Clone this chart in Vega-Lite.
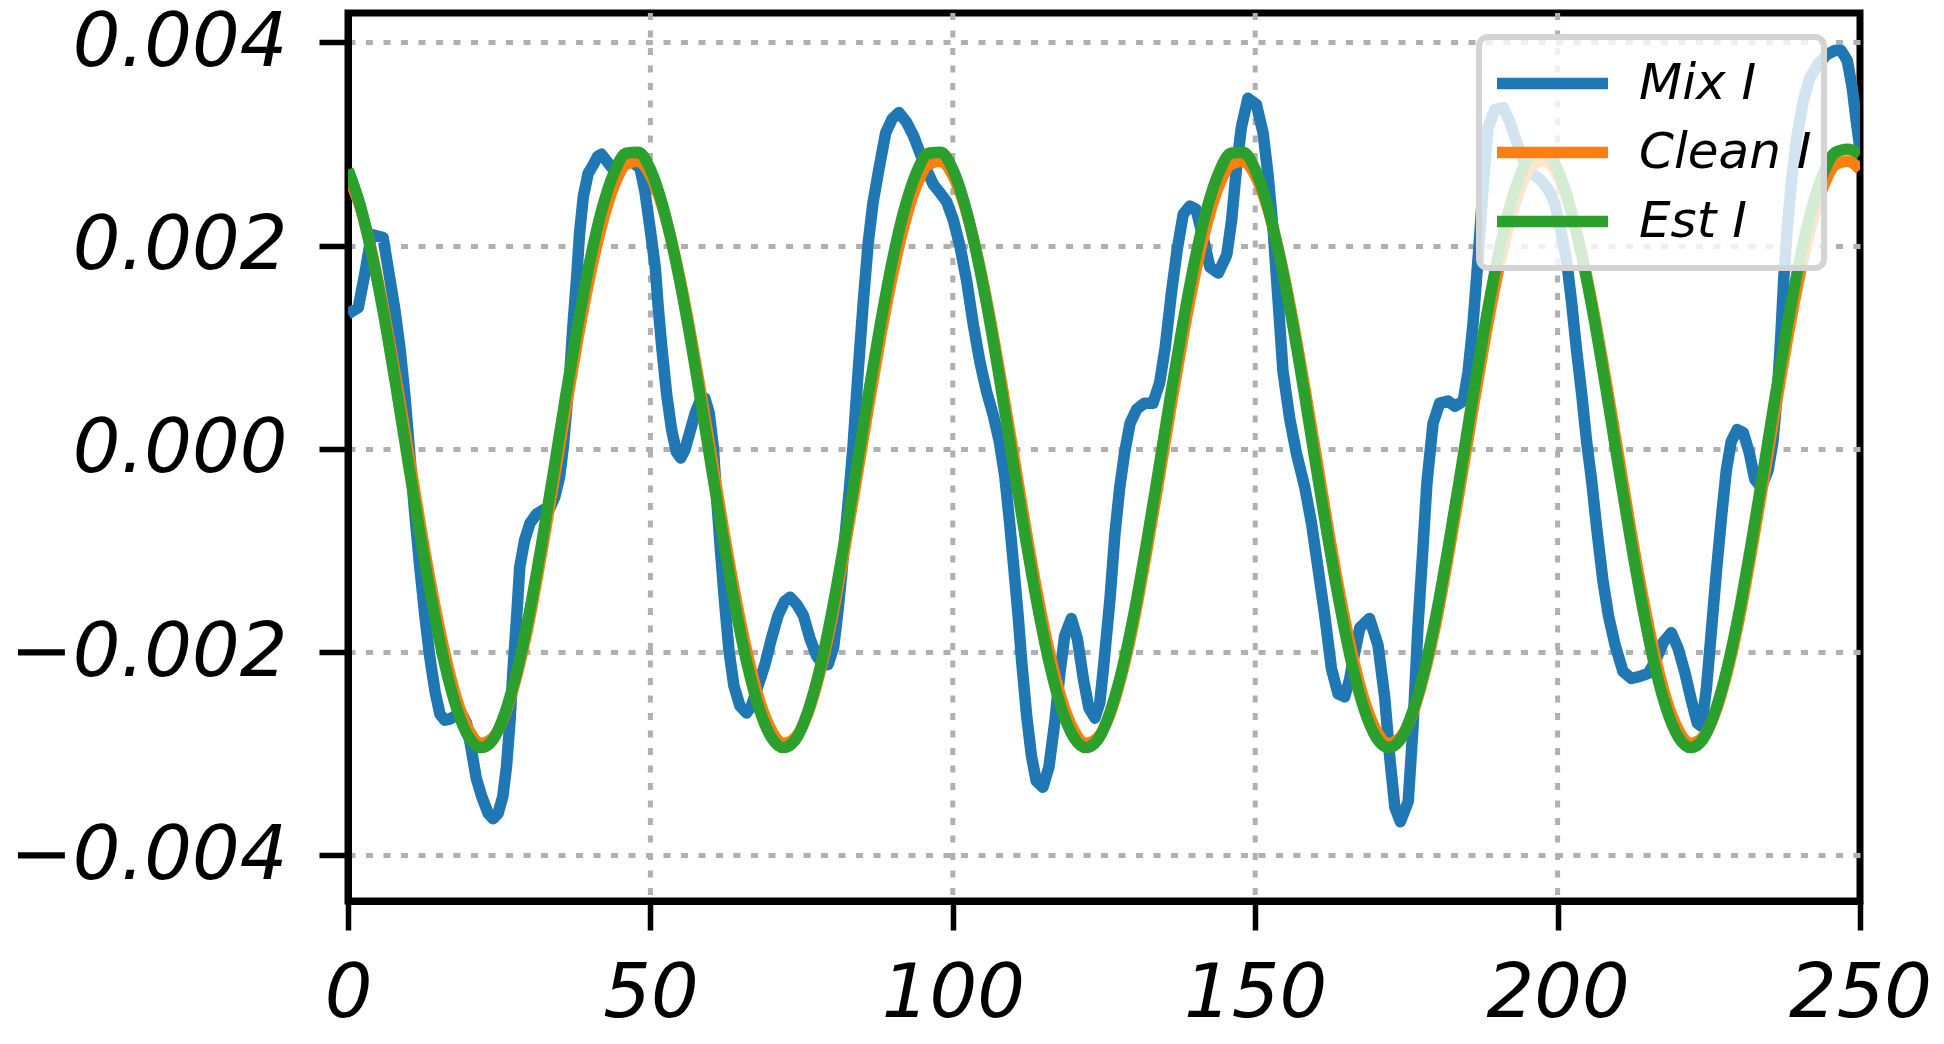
{
  "$schema": "https://vega.github.io/schema/vega-lite/v6.json",
  "width": 1512,
  "height": 888,
  "autosize": {"type": "none"},
  "padding": {"left": 348, "top": 13, "right": 84, "bottom": 143},
  "background": "white",
  "config": {
    "view": {"stroke": "black", "strokeWidth": 7},
    "axis": {
      "labelFont": "DejaVu Sans",
      "labelFontStyle": "italic",
      "labelFontSize": 75,
      "labelColor": "black",
      "labelLimit": 0,
      "tickColor": "black",
      "tickSize": 29,
      "tickWidth": 5.5,
      "domainColor": "black",
      "domainWidth": 7,
      "gridColor": "#b0b0b0",
      "gridWidth": 5,
      "gridDash": [7, 10.5],
      "labelOverlap": false,
      "labelFlush": false
    }
  },
  "datasets": {
    "xgrid": [{"x": 50}, {"x": 100}, {"x": 150}, {"x": 200}],
    "mix": [
      {"x":0,"y":0.00133},{"x":1.7,"y":0.00139},{"x":2.8,"y":0.00173},{"x":3.9,"y":0.00211},{"x":5.8,"y":0.00208},{"x":6.9,"y":0.00168},{"x":7.7,"y":0.00139},{"x":8.6,"y":0.00099},{"x":9.4,"y":0.00053},{"x":10.2,"y":-0.00004},
      {"x":11.0,"y":-0.00061},{"x":11.9,"y":-0.00118},{"x":12.7,"y":-0.00164},{"x":13.5,"y":-0.00204},{"x":14.4,"y":-0.00239},{"x":15.2,"y":-0.00261},{"x":16.0,"y":-0.00267},{"x":16.8,"y":-0.00266},{"x":17.7,"y":-0.00263},{"x":18.8,"y":-0.00261},
      {"x":19.6,"y":-0.0027},{"x":20.4,"y":-0.00296},{"x":21.2,"y":-0.00324},{"x":22.1,"y":-0.00342},{"x":23.2,"y":-0.00359},{"x":24.0,"y":-0.00364},{"x":24.8,"y":-0.00359},{"x":25.6,"y":-0.00342},{"x":26.2,"y":-0.00313},{"x":26.8,"y":-0.00267},
      {"x":27.3,"y":-0.00216},{"x":27.9,"y":-0.00164},{"x":28.4,"y":-0.00116},{"x":29.2,"y":-0.0009},{"x":30.1,"y":-0.00073},{"x":31.2,"y":-0.00064},{"x":32.3,"y":-0.0006},{"x":33.4,"y":-0.00058},{"x":34.2,"y":-0.00047},{"x":35.0,"y":-0.00027},
      {"x":35.6,"y":0.00002},{"x":36.1,"y":0.00036},{"x":36.7,"y":0.00076},{"x":37.2,"y":0.00122},{"x":37.8,"y":0.00168},{"x":38.3,"y":0.00213},{"x":38.9,"y":0.00248},{"x":39.7,"y":0.00271},{"x":40.5,"y":0.00279},{"x":41.3,"y":0.00288},
      {"x":41.9,"y":0.0029},{"x":43.6,"y":0.00277},{"x":45.2,"y":0.0028},{"x":46.9,"y":0.00283},{"x":48.3,"y":0.00276},{"x":49.1,"y":0.00253},{"x":49.9,"y":0.00219},{"x":50.8,"y":0.00179},{"x":51.3,"y":0.00139},{"x":51.9,"y":0.00099},
      {"x":52.7,"y":0.00053},{"x":53.5,"y":0.00019},{"x":54.3,"y":-0.00003},{"x":55.0,"y":-0.00009},{"x":55.7,"y":-0.00001},{"x":56.5,"y":0.00016},{"x":57.4,"y":0.00035},{"x":58.2,"y":0.00047},{"x":59.0,"y":0.0005},{"x":59.7,"y":0.00036},
      {"x":60.4,"y":0.00002},{"x":60.9,"y":-0.00044},{"x":61.6,"y":-0.00101},{"x":62.3,"y":-0.00153},{"x":63.0,"y":-0.00199},{"x":63.8,"y":-0.00233},{"x":64.8,"y":-0.00253},{"x":65.9,"y":-0.0026},{"x":66.7,"y":-0.00253},{"x":67.8,"y":-0.00233},
      {"x":68.9,"y":-0.00213},{"x":70.0,"y":-0.00187},{"x":71.1,"y":-0.00164},{"x":72.2,"y":-0.0015},{"x":73.1,"y":-0.00146},{"x":74.2,"y":-0.00153},{"x":75.3,"y":-0.00164},{"x":76.4,"y":-0.00187},{"x":77.5,"y":-0.00204},{"x":78.6,"y":-0.00213},
      {"x":79.4,"y":-0.00212},{"x":80.3,"y":-0.00195},{"x":81.0,"y":-0.0016},{"x":81.6,"y":-0.00125},{"x":82.2,"y":-0.00085},{"x":82.9,"y":-0.0004},{"x":83.5,"y":0.00002},{"x":84.35,"y":0.00076},{"x":85.2,"y":0.00145},{"x":86.0,"y":0.00202},
      {"x":86.8,"y":0.00242},{"x":87.8,"y":0.00276},{"x":88.9,"y":0.00311},{"x":90.0,"y":0.00325},{"x":91.1,"y":0.00331},{"x":92.3,"y":0.00322},{"x":93.5,"y":0.00308},{"x":94.6,"y":0.00291},{"x":95.7,"y":0.00274},{"x":96.8,"y":0.0026},
      {"x":97.9,"y":0.00252},{"x":99.0,"y":0.00243},{"x":100.1,"y":0.00225},{"x":101.2,"y":0.00199},{"x":102.3,"y":0.00165},{"x":103.4,"y":0.00122},{"x":104.5,"y":0.00085},{"x":105.6,"y":0.00056},{"x":106.7,"y":0.00033},{"x":107.7,"y":0.00007},
      {"x":108.6,"y":-0.00027},{"x":109.4,"y":-0.00073},{"x":110.1,"y":-0.00118},{"x":110.8,"y":-0.00164},{"x":111.4,"y":-0.0021},{"x":112.2,"y":-0.00262},{"x":113.0,"y":-0.00302},{"x":113.8,"y":-0.00327},{"x":114.9,"y":-0.00333},{"x":115.9,"y":-0.00313},
      {"x":116.9,"y":-0.00267},{"x":117.7,"y":-0.00221},{"x":118.5,"y":-0.00184},{"x":119.6,"y":-0.00167},{"x":120.6,"y":-0.00187},{"x":121.6,"y":-0.00227},{"x":122.5,"y":-0.00255},{"x":123.5,"y":-0.00265},{"x":124.3,"y":-0.0025},{"x":124.9,"y":-0.00216},
      {"x":126.0,"y":-0.00147},{"x":126.8,"y":-0.00084},{"x":127.6,"y":-0.00038},{"x":128.4,"y":-0.00004},{"x":129.3,"y":0.00025},{"x":130.4,"y":0.00039},{"x":131.7,"y":0.00045},{"x":133.1,"y":0.00045},{"x":134.2,"y":0.00065},{"x":135.1,"y":0.00099},
      {"x":136.2,"y":0.00156},{"x":137.1,"y":0.00196},{"x":138.1,"y":0.00231},{"x":139.2,"y":0.00239},{"x":140.2,"y":0.00236},{"x":141.4,"y":0.00208},{"x":142.5,"y":0.00179},{"x":143.9,"y":0.00173},{"x":145.3,"y":0.00191},{"x":146.1,"y":0.00225},
      {"x":146.9,"y":0.00276},{"x":147.7,"y":0.00316},{"x":148.8,"y":0.00345},{"x":150.2,"y":0.00339},{"x":151.3,"y":0.00311},{"x":152.1,"y":0.00271},{"x":153.0,"y":0.00213},{"x":153.8,"y":0.00145},{"x":154.6,"y":0.00076},{"x":155.7,"y":0.0003},
      {"x":156.8,"y":-0.00004},{"x":158.2,"y":-0.00038},{"x":159.3,"y":-0.00073},{"x":160.4,"y":-0.00118},{"x":161.5,"y":-0.00164},{"x":162.6,"y":-0.00216},{"x":163.7,"y":-0.00241},{"x":164.8,"y":-0.00244},{"x":165.6,"y":-0.00227},{"x":166.3,"y":-0.00205},
      {"x":167.3,"y":-0.00176},{"x":168.9,"y":-0.00167},{"x":170.3,"y":-0.00193},{"x":171.4,"y":-0.00244},{"x":172.3,"y":-0.00307},{"x":173.1,"y":-0.00353},{"x":174.0,"y":-0.00367},{"x":175.3,"y":-0.00347},{"x":176.1,"y":-0.00273},{"x":176.9,"y":-0.00176},
      {"x":177.7,"y":-0.00101},{"x":178.4,"y":-0.00033},{"x":179.4,"y":0.00025},{"x":180.5,"y":0.00045},{"x":181.9,"y":0.00047},{"x":183.0,"y":0.00042},{"x":184.4,"y":0.00047},{"x":185.2,"y":0.00076},{"x":186.0,"y":0.00122},{"x":186.9,"y":0.00191},
      {"x":187.7,"y":0.00259},{"x":188.5,"y":0.00316},{"x":189.6,"y":0.00334},{"x":191.0,"y":0.00336},{"x":192.1,"y":0.00322},{"x":193.2,"y":0.00302},{"x":194.3,"y":0.00285},{"x":195.7,"y":0.00271},{"x":197.1,"y":0.00265},{"x":198.4,"y":0.00256},
      {"x":199.5,"y":0.00242},{"x":200.6,"y":0.00213},{"x":201.5,"y":0.00185},{"x":202.3,"y":0.00145},{"x":203.1,"y":0.00099},{"x":204.0,"y":0.00053},{"x":204.8,"y":0.00007},{"x":205.6,"y":-0.0003},{"x":206.5,"y":-0.0008},{"x":207.5,"y":-0.0013},
      {"x":208.4,"y":-0.00164},{"x":209.5,"y":-0.00193},{"x":210.8,"y":-0.00219},{"x":212.2,"y":-0.00226},{"x":213.6,"y":-0.00224},{"x":215.0,"y":-0.00221},{"x":216.3,"y":-0.00207},{"x":217.5,"y":-0.0019},{"x":218.8,"y":-0.00181},{"x":219.9,"y":-0.00196},
      {"x":221.0,"y":-0.00219},{"x":222.1,"y":-0.00247},{"x":223.1,"y":-0.0027},{"x":223.8,"y":-0.00273},{"x":224.6,"y":-0.00236},{"x":225.4,"y":-0.00181},{"x":226.3,"y":-0.00118},{"x":227.1,"y":-0.00067},{"x":227.9,"y":-0.00021},{"x":228.7,"y":0.00007},
      {"x":229.7,"y":0.00019},{"x":230.7,"y":0.00016},{"x":231.7,"y":-0.00004},{"x":232.6,"y":-0.0003},{"x":233.7,"y":-0.00038},{"x":234.8,"y":-0.00021},{"x":235.6,"y":0.00007},{"x":236.3,"y":0.00053},{"x":236.9,"y":0.0011},{"x":237.4,"y":0.00168},
      {"x":238.0,"y":0.00219},{"x":238.7,"y":0.00265},{"x":239.5,"y":0.00305},{"x":240.6,"y":0.00342},{"x":241.7,"y":0.00365},{"x":243.1,"y":0.00379},{"x":244.5,"y":0.00388},{"x":245.8,"y":0.00392},{"x":246.9,"y":0.00392},{"x":247.9,"y":0.00382},
      {"x":248.7,"y":0.00356},{"x":249.4,"y":0.00322},{"x":250.0,"y":0.00295}
    ],
    "clean": [
      {"x":0,"y":0.00269},{"x":2,"y":0.00238},{"x":4,"y":0.00192},{"x":6,"y":0.00134},{"x":8,"y":0.00067},{"x":10,"y":-0.00004},{"x":12,"y":-0.00076},{"x":14,"y":-0.00143},{"x":16,"y":-0.00201},{"x":18,"y":-0.00247},{"x":20,"y":-0.00277},{"x":22,"y":-0.0029},{"x":24,"y":-0.00284},{"x":26,"y":-0.00261},{"x":28,"y":-0.00221},{"x":30,"y":-0.00168},{"x":32,"y":-0.00103},{"x":34,"y":-0.00033},{"x":36,"y":0.00039},{"x":38,"y":0.00108},{"x":40,"y":0.0017},{"x":42,"y":0.00221},{"x":44,"y":0.00259},{"x":46,"y":0.0028},{"x":48,"y":0.00283},
      {"x":50,"y":0.00269},{"x":52,"y":0.00238},{"x":54,"y":0.00192},{"x":56,"y":0.00134},{"x":58,"y":0.00067},{"x":60,"y":-0.00004},{"x":62,"y":-0.00076},{"x":64,"y":-0.00143},{"x":66,"y":-0.00201},{"x":68,"y":-0.00247},{"x":70,"y":-0.00277},{"x":72,"y":-0.0029},{"x":74,"y":-0.00284},{"x":76,"y":-0.00261},{"x":78,"y":-0.00221},{"x":80,"y":-0.00168},{"x":82,"y":-0.00103},{"x":84,"y":-0.00033},{"x":86,"y":0.00039},{"x":88,"y":0.00108},{"x":90,"y":0.0017},{"x":92,"y":0.00221},{"x":94,"y":0.00259},{"x":96,"y":0.0028},{"x":98,"y":0.00283},
      {"x":100,"y":0.00269},{"x":102,"y":0.00238},{"x":104,"y":0.00192},{"x":106,"y":0.00134},{"x":108,"y":0.00067},{"x":110,"y":-0.00004},{"x":112,"y":-0.00076},{"x":114,"y":-0.00143},{"x":116,"y":-0.00201},{"x":118,"y":-0.00247},{"x":120,"y":-0.00277},{"x":122,"y":-0.0029},{"x":124,"y":-0.00284},{"x":126,"y":-0.00261},{"x":128,"y":-0.00221},{"x":130,"y":-0.00168},{"x":132,"y":-0.00103},{"x":134,"y":-0.00033},{"x":136,"y":0.00039},{"x":138,"y":0.00108},{"x":140,"y":0.0017},{"x":142,"y":0.00221},{"x":144,"y":0.00259},{"x":146,"y":0.0028},{"x":148,"y":0.00283},
      {"x":150,"y":0.00269},{"x":152,"y":0.00238},{"x":154,"y":0.00192},{"x":156,"y":0.00134},{"x":158,"y":0.00067},{"x":160,"y":-0.00004},{"x":162,"y":-0.00076},{"x":164,"y":-0.00143},{"x":166,"y":-0.00201},{"x":168,"y":-0.00247},{"x":170,"y":-0.00277},{"x":172,"y":-0.0029},{"x":174,"y":-0.00284},{"x":176,"y":-0.00261},{"x":178,"y":-0.00221},{"x":180,"y":-0.00168},{"x":182,"y":-0.00103},{"x":184,"y":-0.00033},{"x":186,"y":0.00039},{"x":188,"y":0.00108},{"x":190,"y":0.0017},{"x":192,"y":0.00221},{"x":194,"y":0.00259},{"x":196,"y":0.0028},{"x":198,"y":0.00283},
      {"x":200,"y":0.00269},{"x":202,"y":0.00238},{"x":204,"y":0.00192},{"x":206,"y":0.00134},{"x":208,"y":0.00067},{"x":210,"y":-0.00004},{"x":212,"y":-0.00076},{"x":214,"y":-0.00143},{"x":216,"y":-0.00201},{"x":218,"y":-0.00247},{"x":220,"y":-0.00277},{"x":222,"y":-0.0029},{"x":224,"y":-0.00284},{"x":226,"y":-0.00261},{"x":228,"y":-0.00221},{"x":230,"y":-0.00168},{"x":232,"y":-0.00103},{"x":234,"y":-0.00033},{"x":236,"y":0.00039},{"x":238,"y":0.00108},{"x":240,"y":0.0017},{"x":242,"y":0.00221},{"x":244,"y":0.00259},{"x":246,"y":0.0028},{"x":248,"y":0.00283},
      {"x":250,"y":0.00275}
    ],
    "est": [
      {"x":0,"y":0.00275},{"x":2,"y":0.0024},{"x":4,"y":0.0019},{"x":6,"y":0.00129},{"x":8,"y":0.00059},{"x":10,"y":-0.00015},{"x":12,"y":-0.00087},{"x":14,"y":-0.00154},{"x":16,"y":-0.00212},{"x":18,"y":-0.00256},{"x":20,"y":-0.00284},{"x":22,"y":-0.00294},{"x":24,"y":-0.00286},{"x":26,"y":-0.00259},{"x":28,"y":-0.00217},{"x":30,"y":-0.00161},{"x":32,"y":-0.00094},{"x":34,"y":-0.00022},{"x":36,"y":0.00052},{"x":38,"y":0.00122},{"x":40,"y":0.00185},{"x":42,"y":0.00236},{"x":44,"y":0.00272},{"x":46,"y":0.00291},{"x":48,"y":0.00292},
      {"x":50,"y":0.00275},{"x":52,"y":0.0024},{"x":54,"y":0.0019},{"x":56,"y":0.00129},{"x":58,"y":0.00059},{"x":60,"y":-0.00015},{"x":62,"y":-0.00087},{"x":64,"y":-0.00154},{"x":66,"y":-0.00212},{"x":68,"y":-0.00256},{"x":70,"y":-0.00284},{"x":72,"y":-0.00294},{"x":74,"y":-0.00286},{"x":76,"y":-0.00259},{"x":78,"y":-0.00217},{"x":80,"y":-0.00161},{"x":82,"y":-0.00094},{"x":84,"y":-0.00022},{"x":86,"y":0.00052},{"x":88,"y":0.00122},{"x":90,"y":0.00185},{"x":92,"y":0.00236},{"x":94,"y":0.00272},{"x":96,"y":0.00291},{"x":98,"y":0.00292},
      {"x":100,"y":0.00275},{"x":102,"y":0.0024},{"x":104,"y":0.0019},{"x":106,"y":0.00129},{"x":108,"y":0.00059},{"x":110,"y":-0.00015},{"x":112,"y":-0.00087},{"x":114,"y":-0.00154},{"x":116,"y":-0.00212},{"x":118,"y":-0.00256},{"x":120,"y":-0.00284},{"x":122,"y":-0.00294},{"x":124,"y":-0.00286},{"x":126,"y":-0.00259},{"x":128,"y":-0.00217},{"x":130,"y":-0.00161},{"x":132,"y":-0.00094},{"x":134,"y":-0.00022},{"x":136,"y":0.00052},{"x":138,"y":0.00122},{"x":140,"y":0.00185},{"x":142,"y":0.00236},{"x":144,"y":0.00272},{"x":146,"y":0.00291},{"x":148,"y":0.00292},
      {"x":150,"y":0.00275},{"x":152,"y":0.0024},{"x":154,"y":0.0019},{"x":156,"y":0.00129},{"x":158,"y":0.00059},{"x":160,"y":-0.00015},{"x":162,"y":-0.00087},{"x":164,"y":-0.00154},{"x":166,"y":-0.00212},{"x":168,"y":-0.00256},{"x":170,"y":-0.00284},{"x":172,"y":-0.00294},{"x":174,"y":-0.00286},{"x":176,"y":-0.00259},{"x":178,"y":-0.00217},{"x":180,"y":-0.00161},{"x":182,"y":-0.00094},{"x":184,"y":-0.00022},{"x":186,"y":0.00052},{"x":188,"y":0.00122},{"x":190,"y":0.00185},{"x":192,"y":0.00236},{"x":194,"y":0.00272},{"x":196,"y":0.00291},{"x":198,"y":0.00292},
      {"x":200,"y":0.00275},{"x":202,"y":0.0024},{"x":204,"y":0.0019},{"x":206,"y":0.00129},{"x":208,"y":0.00059},{"x":210,"y":-0.00015},{"x":212,"y":-0.00087},{"x":214,"y":-0.00154},{"x":216,"y":-0.00212},{"x":218,"y":-0.00256},{"x":220,"y":-0.00284},{"x":222,"y":-0.00294},{"x":224,"y":-0.00286},{"x":226,"y":-0.00259},{"x":228,"y":-0.00217},{"x":230,"y":-0.00161},{"x":232,"y":-0.00094},{"x":234,"y":-0.00022},{"x":236,"y":0.00052},{"x":238,"y":0.00122},{"x":240,"y":0.00185},{"x":242,"y":0.00236},{"x":244,"y":0.00272},{"x":246,"y":0.00292},{"x":248,"y":0.00295},
      {"x":250,"y":0.0029}
    ]
  },
  "layer": [
    {
      "data": {"name": "xgrid"},
      "mark": {"type": "rule", "color": "#b0b0b0", "strokeWidth": 5, "strokeDash": [7, 10.5]},
      "encoding": {
        "x": {"field": "x", "type": "quantitative"}
      }
    },
    {
      "data": {"name": "mix"},
      "mark": {"type": "line", "strokeWidth": 11.5, "clip": true, "strokeJoin": "round"},
      "encoding": {
        "x": {"field": "x", "type": "quantitative", "scale": {"domain": [0, 250], "nice": false, "zero": false},
              "axis": {"title": null, "grid": false, "values": [0, 50, 100, 150, 200, 250], "labelPadding": 27, "format": "d"}},
        "y": {"field": "y", "type": "quantitative", "scale": {"domain": [-0.00445, 0.00429], "nice": false, "zero": false},
              "axis": {"title": null, "values": [-0.004, -0.002, 0, 0.002, 0.004], "format": ".3f", "labelPadding": 32, "labelLimit": 0}},
        "color": {
          "datum": "Mix I", "type": "nominal",
          "scale": {"domain": ["Mix I", "Clean I", "Est I"], "range": ["#1f77b4", "#ff7f0e", "#2ca02c"]},
          "legend": {
            "title": null,
            "orient": "none",
            "legendX": 1131,
            "legendY": 24,
            "symbolType": "stroke",
            "symbolSize": 12321,
            "symbolStrokeWidth": 11.5,
            "labelFont": "DejaVu Sans",
            "labelFontStyle": "italic",
            "labelFontSize": 50,
            "labelColor": "black",
            "labelLimit": 0,
            "labelOffset": 25,
            "clipHeight": 69,
            "rowPadding": 0,
            "padding": 12,
            "cornerRadius": 9,
            "strokeColor": "#d4d4d4",
            "fillColor": "rgba(255,255,255,0.8)",
            "encode": {"legend": {"update": {"strokeWidth": {"value": 6}}}}
          }
        }
      }
    },
    {
      "data": {"name": "clean"},
      "mark": {"type": "line", "strokeWidth": 11.5, "clip": true, "interpolate": "monotone"},
      "encoding": {
        "x": {"field": "x", "type": "quantitative"},
        "y": {"field": "y", "type": "quantitative"},
        "color": {"datum": "Clean I", "type": "nominal"}
      }
    },
    {
      "data": {"name": "est"},
      "mark": {"type": "line", "strokeWidth": 11.5, "clip": true, "interpolate": "monotone"},
      "encoding": {
        "x": {"field": "x", "type": "quantitative"},
        "y": {"field": "y", "type": "quantitative"},
        "color": {"datum": "Est I", "type": "nominal"}
      }
    }
  ]
}
